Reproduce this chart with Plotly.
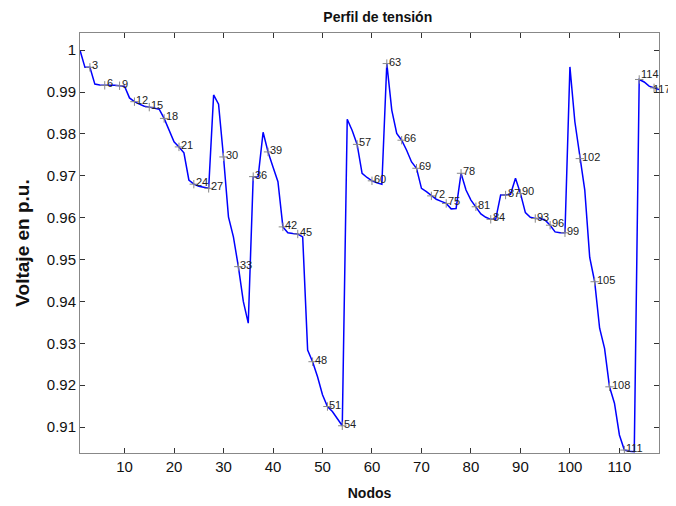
import plotly.graph_objects as go

nodes = list(range(1, 119))
voltage = [
    1.0000, 0.9959, 0.9959, 0.9919, 0.9917, 0.9916, 0.9916, 0.9916, 0.9915, 0.9914,
    0.9886, 0.9877, 0.9871, 0.9866, 0.9864, 0.9862, 0.9859, 0.9837, 0.9811, 0.9781,
    0.9769, 0.9755, 0.9690, 0.9680, 0.9675, 0.9672, 0.9670, 0.9893, 0.9871, 0.9745,
    0.9602, 0.9554, 0.9483, 0.9400, 0.9348, 0.9698, 0.9698, 0.9804, 0.9757, 0.9721,
    0.9686, 0.9578, 0.9564, 0.9562, 0.9561, 0.9554, 0.9284, 0.9256, 0.9220, 0.9177,
    0.9149, 0.9137, 0.9121, 0.9103, 0.9835, 0.9808, 0.9775, 0.9706, 0.9696, 0.9688,
    0.9683, 0.9680, 0.9968, 0.9857, 0.9801, 0.9785, 0.9761, 0.9733, 0.9718, 0.9670,
    0.9662, 0.9652, 0.9644, 0.9639, 0.9634, 0.9621, 0.9622, 0.9706, 0.9666, 0.9642,
    0.9626, 0.9609, 0.9601, 0.9596, 0.9596, 0.9654, 0.9654, 0.9656, 0.9694, 0.9658,
    0.9612, 0.9601, 0.9598, 0.9598, 0.9594, 0.9582, 0.9566, 0.9564, 0.9564, 0.9960,
    0.9829, 0.9741, 0.9666, 0.9505, 0.9447, 0.9336, 0.9288, 0.9196, 0.9157, 0.9081,
    0.9045, 0.9042, 0.9041, 0.9930, 0.9924, 0.9914, 0.9910, 0.9906,
]
label_nodes = list(range(3, 118, 3))
x_ticks = [10, 20, 30, 40, 50, 60, 70, 80, 90, 100, 110]
y_ticks = [0.91, 0.92, 0.93, 0.94, 0.95, 0.96, 0.97, 0.98, 0.99, 1.0]
y_tick_text = ["0.91", "0.92", "0.93", "0.94", "0.95", "0.96", "0.97", "0.98", "0.99", "1"]

lab_x = label_nodes
lab_y = [voltage[n - 1] for n in label_nodes]

fig = go.Figure()
fig.add_trace(go.Scatter(x=nodes, y=voltage, mode="lines",
                         line=dict(color="#0000ff", width=1.5), showlegend=False))
fig.add_trace(go.Scatter(x=lab_x, y=lab_y, mode="markers",
                         marker=dict(symbol="cross-thin", size=6,
                                     line=dict(color="#888888", width=1)),
                         showlegend=False))
for n, v in zip(lab_x, lab_y):
    xs, ys = 0, 2
    if n == 114:
        ys = 5
    elif n == 117:
        xs, ys = -3, -1
    fig.add_annotation(x=n, y=v, text=str(n), showarrow=False,
                       xanchor="left", yanchor="middle", yshift=ys, xshift=xs,
                       font=dict(family="Liberation Sans, Arial", size=11, color="#222222"))

axis_common = dict(showline=True, linecolor="#888888", linewidth=1, mirror="ticks",
                   ticks="inside", ticklen=5, tickcolor="#333333", showgrid=False,
                   zeroline=False,
                   tickfont=dict(family="Liberation Sans, Arial", size=15, color="#111111"))

fig.update_layout(
    width=676, height=506,
    margin=dict(l=72, r=25, t=25, b=61),
    paper_bgcolor="white", plot_bgcolor="white",
    title=dict(text="<b>Perfil de tensión</b>", x=0.547, xanchor="center", y=0.982, yanchor="middle",
               font=dict(family="Liberation Sans, Arial", size=14, color="#111111")),
    xaxis=dict(range=[1, 118], tickvals=x_ticks, title=dict(text="<b>Nodos</b>", standoff=14,
               font=dict(family="Liberation Sans, Arial", size=14, color="#111111")),
               **axis_common),
    yaxis=dict(range=[0.9038, 1.0041], tickvals=y_ticks, ticktext=y_tick_text,
               title=dict(text="<b>Voltaje en p.u.</b>", standoff=12,
               font=dict(family="Liberation Sans, Arial", size=19, color="#111111")),
               **axis_common),
)
fig.write_html("out.html")
